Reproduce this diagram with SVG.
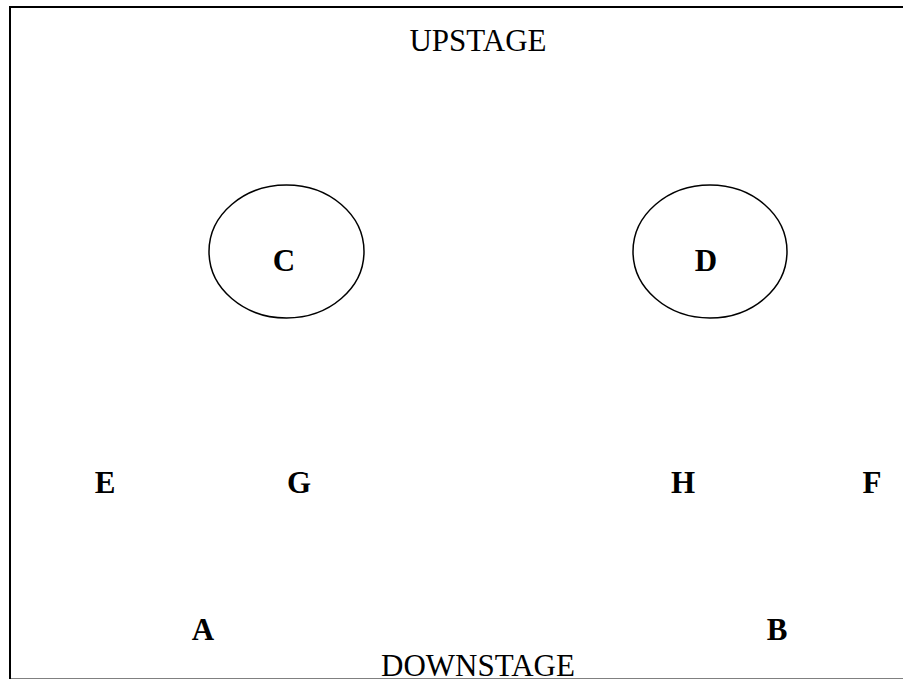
<svg xmlns="http://www.w3.org/2000/svg" width="903" height="679" viewBox="0 0 903 679">
<style>
.t{font-family:"Liberation Serif","Times New Roman",serif;fill:#000;text-anchor:middle}
.b{font-weight:bold;font-size:31px}
.r{font-size:31px}
.e{fill:none;stroke:#000;stroke-width:1.5}
</style>
<rect width="903" height="679" fill="#fff"/>
<rect x="10" y="7" width="900" height="672.5" fill="none" stroke="#000" stroke-width="2"/>
<text class="t r" x="478" y="51">UPSTAGE</text>
<text class="t r" x="478" y="676">DOWNSTAGE</text>
<g id="C"><ellipse class="e" cx="286.5" cy="251.5" rx="77.5" ry="66.5"/><text class="t b" x="284" y="271">C</text></g>
<g id="D"><ellipse class="e" cx="710" cy="251.5" rx="77" ry="66.5"/><text class="t b" x="706" y="271">D</text></g>
<g id="E"><text class="t b" x="105" y="493">E</text></g>
<g id="G"><text class="t b" x="299" y="493">G</text></g>
<g id="H"><text class="t b" x="683" y="493">H</text></g>
<g id="F"><text class="t b" x="872" y="493">F</text></g>
<g id="A"><text class="t b" x="203" y="640">A</text></g>
<g id="B"><text class="t b" x="777" y="640">B</text></g>
<g id="connectors"></g>
</svg>
